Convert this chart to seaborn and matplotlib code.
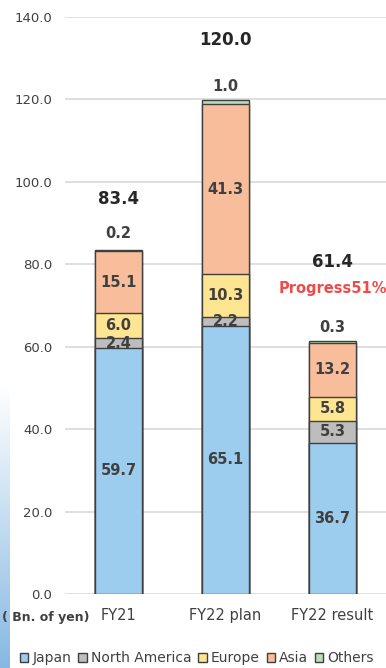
import numpy as np
import pandas as pd
import matplotlib
matplotlib.use("Agg")
import matplotlib.pyplot as plt
from matplotlib.patches import Patch
from matplotlib.colors import LinearSegmentedColormap
import seaborn as sns

categories = ["FY21", "FY22 plan", "FY22 result"]
series_names = ["Japan", "North America", "Europe", "Asia", "Others"]
japan = [59.7, 65.1, 36.7]
north_america = [2.4, 2.2, 5.3]
europe = [6.0, 10.3, 5.8]
asia = [15.1, 41.3, 13.2]
others = [0.2, 1.0, 0.3]
totals = ["83.4", "120.0", "61.4"]
progress_text = "Progress51%"
yticks = [0, 20, 40, 60, 80, 100, 120, 140]
unit_label = "( Bn. of yen)"

colors = ["#9DCDEE", "#BDBDBD", "#FDE591", "#F8BE9B", "#B9DFB5"]
edge = "#3F3F3F"
txt = "#404040"

sns.set_theme(style="white")
plt.rcParams['font.family'] = ['DejaVu Sans']

fig = plt.figure(figsize=(3.86, 6.68), dpi=100)
ax = fig.add_axes([65/386, 74/668, 321/386, (594-17)/668])

values = [japan, north_america, europe, asia, others]
cum = np.cumsum(np.array(values), axis=0)
# draw tallest first so lower segments overlay
for i in range(len(values) - 1, -1, -1):
    df = pd.DataFrame({"cat": categories, "val": cum[i]})
    sns.barplot(data=df, x="cat", y="val", color=colors[i], width=0.435,
                edgecolor=edge, linewidth=1.0, ax=ax, saturation=1, zorder=3)

ax.set_ylim(0, 140)
ax.set_xlim(-0.5, 2.5)
ax.set_yticks(yticks)
ax.set_yticklabels([f"{v:.1f}" for v in yticks], fontsize=9.5, color=txt)
ax.tick_params(axis="y", length=0, pad=9)
ax.tick_params(axis="x", length=0, pad=10)
ax.set_xticks(range(len(categories)))
ax.set_xticklabels(categories, fontsize=10.5, color=txt)
ax.set_xlabel("")
ax.set_ylabel("")
for s in ax.spines.values():
    s.set_visible(False)
ax.yaxis.grid(True, color="#D9D9D9", linewidth=1.2, zorder=0)
ax.set_axisbelow(True)

# in-bar labels (Japan, NA, Europe, Asia)
for i in range(4):
    for j in range(3):
        bottom = cum[i][j] - values[i][j]
        ax.text(j, bottom + values[i][j] / 2, f"{values[i][j]:.1f}", ha="center",
                va="center", fontsize=10.5, fontweight="bold", color=txt, zorder=5)

# Others labels and totals above bars
other_off = [4.0, 3.3, 3.4]
total_off = [12.5, 14.5, 19.2]
for j in range(3):
    top = cum[-1][j]
    ax.text(j, top + other_off[j], f"{others[j]:.1f}", ha="center", va="center",
            fontsize=10.5, fontweight="bold", color=txt, zorder=5)
    ax.text(j, top + total_off[j], totals[j], ha="center", va="center",
            fontsize=12, fontweight="bold", color="#262626", zorder=5)
ax.text(2, cum[-1][2] + 12.9, progress_text, ha="center", va="center",
        fontsize=10.5, fontweight="bold", color="#EE4B4B", zorder=5, clip_on=False)

fig.text(2/386, 1 - 618/668, unit_label, ha="left", va="center",
         fontsize=9, fontweight="bold", color=txt)

handles = [Patch(facecolor=c, edgecolor=edge, linewidth=1.0) for c in colors]
fig.legend(handles, series_names, loc="center", bbox_to_anchor=(197/386, 1 - 658/668),
           ncol=5, frameon=False, fontsize=10, handlelength=0.6, handleheight=0.6,
           handletextpad=0.3, columnspacing=0.5, borderaxespad=0, labelcolor=txt)

# left decorative gradient strip
gax = fig.add_axes([0, 0, 10/386, (668-385)/668])
cmap = LinearSegmentedColormap.from_list("g", ["#FFFFFF", "#86B8E2"])
grad = np.linspace(0, 1, 256).reshape(-1, 1)
gax.imshow(grad, aspect="auto", cmap=cmap, origin="upper")
gax.set_axis_off()

fig.savefig("out.png", dpi=100)
